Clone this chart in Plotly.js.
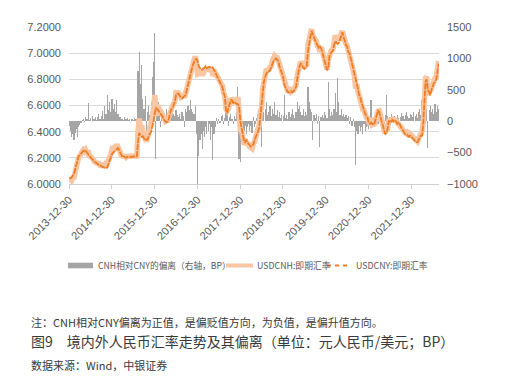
<!DOCTYPE html>
<html><head><meta charset="utf-8">
<script src="https://cdn.plot.ly/plotly-3.0.1.min.js"></script>
<style>html,body{margin:0;padding:0;background:#fff;}#chart{width:510px;height:388px;}</style>
</head><body><div id="chart"></div>
<script>
// Sample dates: three readings per month (days 1, 11, 21), Jan 2014 .. Aug 2022
const startYear = 2014, monthCount = 104, sampleDays = [1, 11, 21];
const tickDates = ['2013-12-30','2014-12-30','2015-12-30','2016-12-30','2017-12-30','2018-12-30','2019-12-30','2020-12-30','2021-12-30'];
const tickLabels = ['2013-12-30','2014-12-30','2015-12-30','2016-12-30','2017-12-30','2018-12-30','2019-12-30','2020-12-30','2021-12-30'];

// USDCNY spot (left axis)
const usdcny = [
6.050,6.045,6.050, 6.065,6.080,6.110, 6.140,6.170,6.210, 6.220,6.235,6.250, 6.255,6.250,6.255, 6.240,6.225,6.215, 6.205,6.195,6.185, 6.170,6.165,6.160, 6.150,6.145,6.140, 6.135,6.130,6.125, 6.120,6.120,6.125, 6.150,6.175,6.210,
6.230,6.240,6.250, 6.260,6.270,6.275, 6.260,6.240,6.215, 6.205,6.210,6.205, 6.200,6.205,6.210, 6.210,6.205,6.210, 6.210,6.210,6.210, 6.210,6.320,6.390, 6.370,6.360,6.365, 6.350,6.335,6.340, 6.340,6.370,6.390, 6.400,6.440,6.475,
6.540,6.580,6.575, 6.560,6.550,6.540, 6.525,6.510,6.490, 6.475,6.470,6.480, 6.500,6.540,6.570, 6.580,6.600,6.630, 6.680,6.690,6.690, 6.670,6.660,6.655, 6.665,6.670,6.680, 6.720,6.760,6.790, 6.830,6.880,6.910, 6.930,6.950,6.955,
6.940,6.900,6.880, 6.870,6.875,6.880, 6.890,6.900,6.885, 6.890,6.895,6.890, 6.895,6.890,6.870, 6.860,6.830,6.820, 6.800,6.780,6.760, 6.740,6.700,6.670, 6.560,6.540,6.580, 6.610,6.640,6.640, 6.620,6.630,6.620, 6.610,6.610,6.590,
6.480,6.420,6.360, 6.330,6.320,6.340, 6.320,6.310,6.300, 6.285,6.290,6.300, 6.330,6.360,6.380, 6.400,6.430,6.520, 6.620,6.700,6.780, 6.820,6.850,6.860, 6.860,6.870,6.890, 6.920,6.940,6.950, 6.960,6.950,6.940, 6.900,6.870,6.860,
6.820,6.760,6.740, 6.720,6.700,6.700, 6.700,6.710,6.700, 6.710,6.730,6.740, 6.800,6.860,6.900, 6.920,6.910,6.890, 6.880,6.890,6.900, 7.010,7.080,7.120, 7.170,7.140,7.110, 7.100,7.080,7.060, 7.040,7.050,7.040, 7.010,6.970,6.930,
6.890,6.870,6.880, 6.980,7.000,7.010, 7.020,7.060,7.090, 7.080,7.070,7.080, 7.100,7.130,7.160, 7.120,7.080,7.060, 7.050,7.010,7.000, 6.960,6.920,6.890, 6.840,6.800,6.780, 6.730,6.680,6.660, 6.620,6.590,6.570, 6.540,6.520,6.510,
6.470,6.460,6.470, 6.460,6.450,6.470, 6.500,6.530,6.560, 6.550,6.500,6.480, 6.450,6.420,6.380, 6.390,6.420,6.480, 6.480,6.470,6.490, 6.480,6.490,6.480, 6.460,6.470,6.460, 6.440,6.420,6.400, 6.390,6.380,6.380, 6.370,6.360,6.370,
6.360,6.350,6.340, 6.330,6.320,6.320, 6.330,6.350,6.370, 6.370,6.450,6.650, 6.780,6.800,6.720, 6.700,6.680,6.720, 6.750,6.770,6.780, 6.800,6.860,6.920
];

// USDCNH spot (left axis)
const usdcnh = [
6.042,6.030,6.025, 6.045,6.050,6.092, 6.128,6.145,6.200, 6.214,6.232,6.252, 6.259,6.248,6.261, 6.243,6.254,6.217, 6.210,6.196,6.193, 6.174,6.172,6.162, 6.156,6.156,6.143, 6.144,6.146,6.129, 6.145,6.132,6.167, 6.168,6.205,6.225,
6.265,6.260,6.278, 6.275,6.303,6.287, 6.270,6.246,6.218, 6.209,6.212,6.211, 6.203,6.210,6.212, 6.214,6.206,6.213, 6.212,6.215,6.213, 6.214,6.400,6.500, 6.430,6.450,6.400, 6.370,6.375,6.325, 6.355,6.395,6.400, 6.430,6.510,6.570,
6.680,6.520,6.595, 6.590,6.560,6.530, 6.540,6.515,6.500, 6.481,6.490,6.488, 6.515,6.550,6.595, 6.600,6.612,6.638, 6.698,6.700,6.696, 6.682,6.664,6.670, 6.673,6.660,6.700, 6.735,6.785,6.808, 6.864,6.900,6.925, 6.942,6.975,6.935,
6.840,6.845,6.850, 6.850,6.830,6.865, 6.865,6.890,6.865, 6.875,6.890,6.860, 6.885,6.828,6.850, 6.850,6.835,6.815, 6.803,6.777,6.768, 6.750,6.696,6.675, 6.575,6.560,6.572, 6.616,6.652,6.643, 6.615,6.638,6.624, 6.625,6.665,6.530,
6.415,6.410,6.355, 6.315,6.312,6.320, 6.310,6.305,6.285, 6.277,6.271,6.307, 6.320,6.355,6.385, 6.412,6.450,6.557, 6.579,6.725,6.795, 6.840,6.880,6.870, 6.875,6.895,6.898, 6.940,6.952,6.980, 6.970,6.968,6.946, 6.915,6.875,6.870,
6.828,6.802,6.745, 6.730,6.703,6.715, 6.706,6.722,6.720, 6.720,6.735,6.755, 6.830,6.880,6.925, 6.935,6.920,6.910, 6.888,6.905,6.910, 7.065,7.110,7.140, 7.185,7.110,7.120, 7.105,7.092,7.055, 7.048,7.009,7.046, 7.020,6.975,6.945,
6.900,6.875,6.942, 7.000,7.008,7.025, 7.030,7.080,7.135, 7.095,7.139,7.110, 7.110,7.150,7.168, 7.132,7.086,7.070, 7.055,7.018,6.995, 6.966,6.912,6.893, 6.830,6.730,6.765, 6.710,6.672,6.645, 6.610,6.570,6.565, 6.525,6.510,6.502,
6.458,6.455,6.504, 6.452,6.456,6.460, 6.505,6.540,6.555, 6.558,6.503,6.492, 6.455,6.414,6.390, 6.432,6.428,6.483, 6.486,6.482,6.495, 6.477,6.498,6.484, 6.470,6.475,6.456, 6.446,6.433,6.408, 6.394,6.390,6.395, 6.378,6.365,6.382,
6.370,6.356,6.355, 6.338,6.332,6.325, 6.345,6.370,6.380, 6.404,6.465,6.675, 6.810,6.820,6.677, 6.718,6.705,6.735, 6.770,6.782,6.808, 6.815,6.885,6.940
];

// CNH deviation from CNY, BP (right axis)
const deviationBP = [
-80,-150,-250, -200,-300,-180, -120,-250,-100, -60,-30,20, 40,-20,60, 30,290,20, 50,10,80, 40,70,20, 60,110,30, 90,160,40, 250,120,420, 180,300,150,
350,200,280, 150,330,120, 100,60,30, 40,20,60, 30,50,20, 40,10,30, 20,50,30, 40,800,1100, 600,900,350, 200,400,-150, 150,250,100, 300,700,950,
1400,-600,200, 300,100,-100, 150,50,100, 60,200,80, 150,100,250, 200,120,80, 180,100,60, 120,40,150, 80,-100,200, 150,250,180, 340,200,150, 120,250,-200,
-1000,-550,-300, -200,-450,-150, -250,-100,-200, -150,-50,-300, -100,-620,-200, -100,50,-50, 30,-30,80, 100,-40,50, 150,200,-80, 60,120,30, -50,80,40, 150,550,-600,
-650,-100,-50, -150,-80,-200, -100,-50,-150, -80,-190,70, -100,-50,50, 120,200,370, -410,250,150, 200,300,100, 150,250,80, 200,120,300, 100,180,60, 150,50,100,
80,420,50, 100,30,150, 60,120,200, 100,50,150, 300,200,250, 150,100,200, 80,150,100, 550,300,200, 150,-300,100, 50,120,-50, 80,-410,60, 100,50,150,
100,50,620, 200,80,150, 100,200,450, 150,690,300, 100,200,80, 120,60,100, 50,80,-50, 60,-80,30, -100,-700,-150, -200,-80,-150, -100,-200,-50, -150,-100,-80,
-120,-50,340, -80,60,-100, 50,100,-50, 80,30,120, 50,-60,100, 420,80,30, 60,120,50, -30,80,40, 100,50,-40, 60,130,80, 40,100,150, 80,50,120,
100,60,150, 80,120,50, 150,200,100, 340,150,250, 300,200,-430, 180,250,150, 200,120,280, 150,250,200
];

// ---- build date axis values ----
const dates = [];
for (let m = 0; m < monthCount; m++) {
  const y = startYear + Math.floor(m / 12), mo = (m % 12) + 1;
  for (const d of sampleDays) dates.push(y + '-' + String(mo).padStart(2, '0') + '-' + String(d).padStart(2, '0'));
}

// plot area in pixels
const L = 69, R = 439, T = 27, B = 184;
const px = x => (x - L) / (R - L);
const py = y => (B - y) / (B - T);

const grayCol = '#A5A5A5', peachCol = '#F8C6A3', orangeCol = '#EE7D24', textCol = '#595959';
const sans = 'Liberation Sans, Arial, sans-serif';
const cjk = 'Noto Sans CJK SC, sans-serif';

const traces = [
  {type: 'bar', x: dates, y: deviationBP, yaxis: 'y', marker: {color: grayCol, line: {width: 0}},
   width: 86400000 * 10, name: 'CNH相对CNY的偏离（右轴，BP）', hoverinfo: 'skip'},
  {type: 'scatter', mode: 'lines', x: dates, y: usdcnh, yaxis: 'y2',
   line: {color: peachCol, width: 5.5}, name: 'USDCNH:即期汇率'},
  {type: 'scatter', mode: 'lines', x: dates, y: usdcny, yaxis: 'y2',
   line: {color: orangeCol, width: 1.8, dash: '6px,1px'}, name: 'USDCNY:即期汇率'}
];

const legendY = 265.5;
const shapes = [
  {type: 'rect', xref: 'paper', yref: 'paper', x0: px(68), x1: px(93), y0: py(legendY - 2.8), y1: py(legendY + 2.8),
   fillcolor: grayCol, line: {width: 0}},
  {type: 'line', xref: 'paper', yref: 'paper', x0: px(226), x1: px(253), y0: py(legendY), y1: py(legendY),
   line: {color: peachCol, width: 4}},
  {type: 'line', xref: 'paper', yref: 'paper', x0: px(327), x1: px(350), y0: py(legendY), y1: py(legendY),
   line: {color: orangeCol, width: 2, dash: '4px,4px'}}
];

function note(x, y, text, size, color, family) {
  return {xref: 'paper', yref: 'paper', x: px(x), y: py(y), xanchor: 'left', yanchor: 'middle',
          text: text, showarrow: false, font: {size: size, color: color, family: family || cjk}};
}
const annotations = [
  note(96, legendY, 'CNH相对CNY的偏离（右轴，BP）', 8.7, textCol),
  note(255, legendY, 'USDCNH:即期汇率', 8.8, textCol),
  note(354, legendY, 'USDCNY:即期汇率', 8.8, textCol),
  note(29, 322, '注：CNH相对CNY偏离为正值，是偏贬值方向，为负值，是偏升值方向。', 11, '#3a3a3a'),
  note(29, 341, '图9　境内外人民币汇率走势及其偏离（单位：元人民币/美元；BP）', 14, '#3a3a3a'),
  note(29, 365, '数据来源：Wind，中银证券', 11, '#3a3a3a')
];

const layout = {
  width: 510, height: 388,
  margin: {l: L, r: 510 - R, t: T, b: 388 - B, pad: 0},
  paper_bgcolor: '#ffffff', plot_bgcolor: '#ffffff',
  showlegend: false, bargap: 0,
  xaxis: {type: 'date', range: ['2013-12-30', '2022-08-24'], tickvals: tickDates, ticktext: tickLabels,
          tickangle: -45, tickfont: {size: 11, color: textCol, family: sans},
          showgrid: false, zeroline: false, showline: true, linecolor: '#D0D0D0', linewidth: 1,
          ticks: 'outside', ticklen: 4, tickcolor: '#D0D0D0', anchor: 'y', fixedrange: true},
  yaxis: {side: 'right', range: [-1000, 1500], tickvals: [-1000, -500, 0, 500, 1000, 1500],
          showgrid: false, zeroline: false, showline: false, ticks: '', ticklabelstandoff: 7,
          tickfont: {size: 11, color: textCol, family: sans}, fixedrange: true},
  yaxis2: {side: 'left', overlaying: 'y', range: [6.0, 7.2], tickvals: [6.0, 6.2, 6.4, 6.6, 6.8, 7.0, 7.2],
           tickformat: '.4f', showgrid: true, gridcolor: '#D9D9D9', gridwidth: 1, zeroline: false,
           showline: false, ticks: '', ticklabelstandoff: 7,
           tickfont: {size: 11, color: textCol, family: sans}, fixedrange: true},
  shapes: shapes, annotations: annotations
};

Plotly.newPlot('chart', traces, layout, {displayModeBar: false, staticPlot: true});
</script>
</body></html>
